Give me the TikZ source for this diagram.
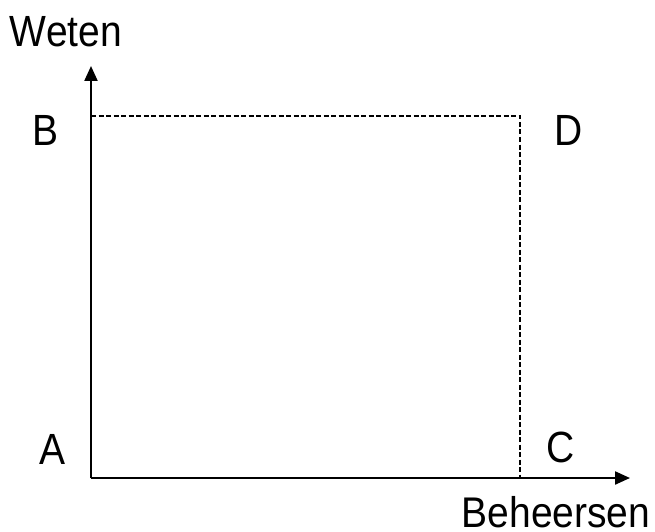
\documentclass[tikz,border=0pt]{standalone}
\usepackage{fontspec}
\setmainfont{Liberation Sans}
\usetikzlibrary{arrows.meta}
\begin{document}
\begin{tikzpicture}[x=1pt,y=-1pt,
  axis/.style={line width=2.2pt,-{Triangle[length=15pt,width=13pt]}},
  guide/.style={line width=2pt,dash pattern=on 5pt off 2.5pt},
  lbl/.style={inner sep=0pt,font=\fontsize{39}{39}\selectfont}]
\useasboundingbox (0,0) rectangle (655,532);
\coordinate (O) at (91,478);
\coordinate (ytip) at (91,66);
\coordinate (xtip) at (630,478);
\coordinate (Btop) at (91,116);
\coordinate (Dc) at (520,116);
\coordinate (Cb) at (520,478);
\draw[guide] (Btop) -- (Dc) -- (Cb);
\draw[axis] (O) -- (ytip);
\draw[axis] (O) -- (xtip);
\node[lbl] (weten) at (66,32) {\scalebox{1}[1.12]{Weten}};
\node[lbl] (beh) at (556,512) {\scalebox{1}[1.1]{Beheersen}};
\node[lbl] (B) at (46,130) {\scalebox{1}[1.12]{B}};
\node[lbl] (D) at (569,130) {\scalebox{1}[1.12]{D}};
\node[lbl] (A) at (53,449) {\scalebox{1}[1.12]{A}};
\node[lbl] (C) at (561,447) {\scalebox{1}[1.12]{C}};
\end{tikzpicture}
\end{document}
